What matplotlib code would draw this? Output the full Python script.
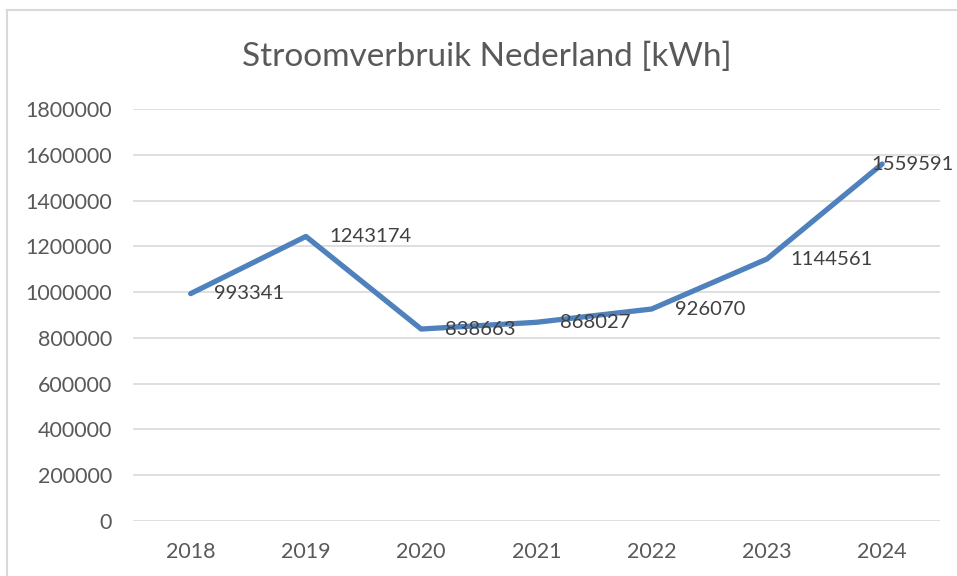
import matplotlib.pyplot as plt
from matplotlib.lines import Line2D

# --- Data ---
years = ["2018", "2019", "2020", "2021", "2022", "2023", "2024"]
verbruik = [993341, 1243174, 838663, 868027, 926070, 1144561, 1559591]
y_ticks = [0, 200000, 400000, 600000, 800000, 1000000, 1200000, 1400000, 1600000, 1800000]

plt.rcParams["font.family"] = ["Lato", "DejaVu Sans"]

fig = plt.figure(figsize=(9.57, 5.76), dpi=100)
ax = fig.add_axes([0.139, 0.0955, 0.843, 0.7153])

x = list(range(len(years)))
ax.plot(x, verbruik, color="#4F81BD", linewidth=3.8, solid_capstyle="round", solid_joinstyle="round")

# --- data labels (right of the point; last one pulled back inside the chart) ---
for xi, v in zip(x, verbruik):
    dx = 17 if xi < len(x) - 1 else -8
    ax.annotate(str(v), (xi, v), xytext=(dx, 0), textcoords="offset points",
                ha="left", va="center", fontsize=14.6, color="#404040")

ax.set_xlim(-0.5, len(years) - 0.5)
ax.set_ylim(0, 1800000)
ax.set_xticks(x)
ax.set_xticklabels(years)
ax.set_yticks(y_ticks)
ax.set_yticklabels([str(t) for t in y_ticks])
ax.tick_params(axis="both", length=0, labelsize=15.5, colors="#595959")
ax.tick_params(axis="x", pad=15)
ax.tick_params(axis="y", pad=15)
ax.grid(axis="y", color="#D9D9D9", linewidth=1.2)
ax.set_axisbelow(True)
for s in ax.spines.values():
    s.set_visible(False)

fig.text(0.509, 0.902, "Stroomverbruik Nederland [kWh]", ha="center", va="center",
         fontsize=24, color="#595959")

# chart border (cut off on right and bottom)
fig.add_artist(Line2D([7 / 957, 7 / 957], [0, 1 - 10 / 576], color="#D9D9D9", linewidth=1.5))
fig.add_artist(Line2D([7 / 957, 1], [1 - 10 / 576, 1 - 10 / 576], color="#D9D9D9", linewidth=1.5))

fig.savefig("out.png", dpi=100)
